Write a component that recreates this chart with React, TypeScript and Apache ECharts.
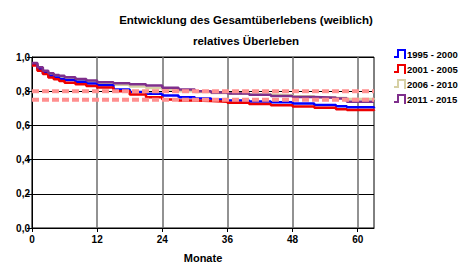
import React, { useEffect, useRef } from "react";
import * as echarts from "echarts";

const titleText = "Entwicklung des Gesamtüberlebens (weiblich)";
const subtitleText = "relatives Überleben";
const xAxisName = "Monate";
const seriesNames = ["1995 - 2000", "2001 - 2005", "2006 - 2010", "2011 - 2015"];
const seriesColors = ["#0000ff", "#ee0000", "#d6d0a4", "#7f2f8c"];
const xTicks = [0, 12, 24, 36, 48, 60];
const yTicks = [0, 0.2, 0.4, 0.6, 0.8, 1.0];
const refLines = [0.8, 0.75];

const months = [0, 1, 2, 3, 4, 5, 6, 8, 10, 12, 15, 18, 21, 24, 27, 30, 33, 36, 40, 44, 48, 52, 56, 58, 63];
const s1995 = [0.955, 0.93, 0.905, 0.89, 0.88, 0.872, 0.865, 0.855, 0.845, 0.835, 0.81, 0.795, 0.785, 0.775, 0.765, 0.758, 0.752, 0.745, 0.74, 0.735, 0.728, 0.72, 0.712, 0.706, 0.70];
const s2001 = [0.95, 0.92, 0.9, 0.88, 0.87, 0.86, 0.85, 0.84, 0.83, 0.822, 0.8, 0.78, 0.765, 0.752, 0.745, 0.742, 0.738, 0.733, 0.725, 0.718, 0.71, 0.703, 0.695, 0.69, 0.685];
const s2006 = [0.96, 0.935, 0.915, 0.9, 0.89, 0.884, 0.876, 0.866, 0.856, 0.848, 0.838, 0.828, 0.818, 0.81, 0.8, 0.795, 0.79, 0.785, 0.78, 0.776, 0.77, 0.765, 0.76, 0.755, 0.75];
const s2011 = [0.965, 0.94, 0.92, 0.905, 0.895, 0.89, 0.882, 0.872, 0.862, 0.853, 0.846, 0.84, 0.834, 0.82, 0.81, 0.8, 0.792, 0.786, 0.779, 0.772, 0.766, 0.762, 0.757, 0.738, 0.735];

const seriesValues = [s1995, s2001, s2006, s2011];
const drawOrder = [2, 0, 1, 3];

const stepIcon = "path://M0,7 L3,7 L3,0 L12,0 L12,10 L10,10 L10,2 L5,2 L5,9 L0,9 Z";

export default function App() {
  const ref = useRef<HTMLDivElement>(null);
  useEffect(() => {
    if (!ref.current) return;
    const chart = echarts.init(ref.current, null, { renderer: "svg" });
    const font = "'Liberation Sans', Arial, sans-serif";
    const lineSeries = drawOrder.map((i) => ({
      name: seriesNames[i],
      type: "line",
      step: "end",
      symbol: "none",
      lineStyle: { color: seriesColors[i], width: 2.5 },
      itemStyle: { color: seriesColors[i] },
      data: months.map((m, k) => [m, seriesValues[i][k]]),
      z: 3,
    }));
    const refSeries = refLines.map((v, i) => ({
      name: "ref" + i,
      type: "line",
      symbol: "none",
      silent: true,
      lineStyle: { color: "#ff8f8f", width: 4, type: [7, 3] },
      data: [
        [0, v],
        [63, v],
      ],
      z: 4,
    }));
    chart.setOption({
      animation: false,
      textStyle: { fontFamily: font },
      graphic: [
        {
          type: "text",
          x: 246,
          y: 20,
          style: { text: titleText, font: `bold 11.5px ${font}`, fill: "#000", textAlign: "center", textVerticalAlign: "middle" },
        },
        {
          type: "text",
          x: 246,
          y: 41,
          style: { text: subtitleText, font: `bold 11.5px ${font}`, fill: "#000", textAlign: "center", textVerticalAlign: "middle" },
        },
      ],
      legend: {
        orient: "vertical",
        left: 394,
        top: 49,
        padding: 0,
        itemWidth: 12,
        itemHeight: 10,
        itemGap: 5,
        data: seriesNames.map((n, i) => ({ name: n, icon: stepIcon, itemStyle: { color: seriesColors[i] } })),
        textStyle: { fontFamily: font, fontWeight: "bold", fontSize: 9.5, color: "#000", padding: [0, 0, 0, -4], overflow: "none" },
      },
      grid: {
        left: 32,
        top: 57,
        right: 88,
        bottom: 36,
        containLabel: false,
        outerBoundsMode: "none",
        show: true,
        borderColor: "#000",
        borderWidth: 1,
        backgroundColor: "transparent",
      },
      xAxis: {
        type: "value",
        min: 0,
        max: 63,
        interval: 12,
        name: xAxisName,
        nameLocation: "middle",
        nameGap: 24,
        nameTextStyle: { fontFamily: font, fontWeight: "bold", fontSize: 11, color: "#000" },
        axisLine: { show: true, lineStyle: { color: "#000", width: 1 } },
        axisTick: { show: true, length: 4, customValues: xTicks, lineStyle: { color: "#000" } },
        axisLabel: { customValues: xTicks, fontFamily: font, fontWeight: "bold", fontSize: 10, color: "#000", margin: 6 },
        splitLine: { show: true, lineStyle: { color: "#6e6e6e", width: 1.5 } },
      },
      yAxis: {
        type: "value",
        min: 0,
        max: 1,
        interval: 0.2,
        axisLine: { show: true, lineStyle: { color: "#000", width: 1 } },
        axisTick: { show: true, length: 5, lineStyle: { color: "#000" } },
        axisLabel: {
          fontFamily: font,
          fontWeight: "bold",
          fontSize: 10,
          color: "#000",
          margin: 2,
          formatter: (v: number) => (yTicks.some((t) => Math.abs(t - v) < 1e-9) ? v.toFixed(1).replace(".", ",") : ""),
        },
        splitLine: { show: true, lineStyle: { color: "#000", width: 1 } },
      },
      series: [...lineSeries, ...refSeries],
    });
    return () => chart.dispose();
  }, []);
  return <div ref={ref} style={{ width: 462, height: 264, position: "absolute", left: 0, top: 0 }} />;
}
